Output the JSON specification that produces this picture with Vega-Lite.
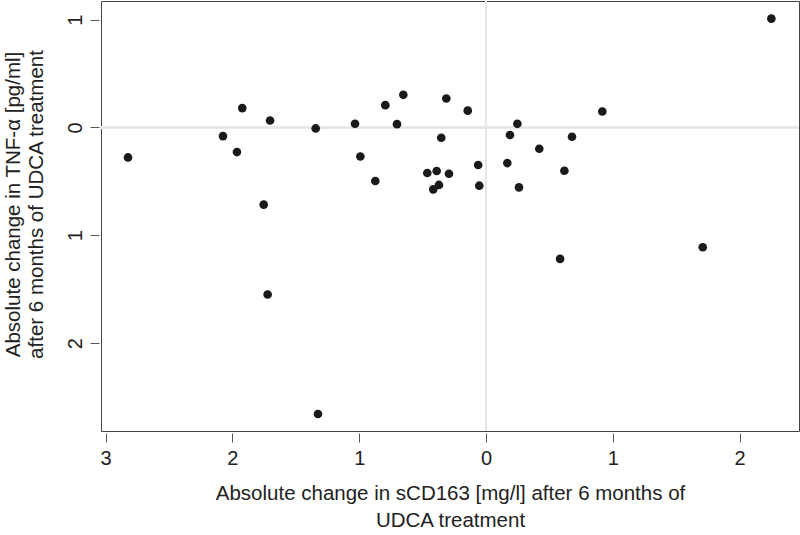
{
  "$schema": "https://vega.github.io/schema/vega-lite/v6.json",
  "width": 698,
  "height": 430,
  "autosize": {"type": "none"},
  "padding": {"left": 101, "top": 1, "right": 1, "bottom": 104},
  "background": "white",
  "config": {
    "view": {"stroke": "#444444", "strokeWidth": 1},
    "font": "Liberation Sans"
  },
  "data": {
    "values": [
      {"sCD163": -2.823, "TNF": -0.278},
      {"sCD163": -2.074, "TNF": -0.080},
      {"sCD163": -1.964, "TNF": -0.228},
      {"sCD163": -1.922, "TNF": 0.180},
      {"sCD163": -1.703, "TNF": 0.065},
      {"sCD163": -1.753, "TNF": -0.716},
      {"sCD163": -1.722, "TNF": -1.549},
      {"sCD163": -1.343, "TNF": -0.009},
      {"sCD163": -1.325, "TNF": -2.657},
      {"sCD163": -1.033, "TNF": 0.034},
      {"sCD163": -0.991, "TNF": -0.269},
      {"sCD163": -0.873, "TNF": -0.496},
      {"sCD163": -0.794, "TNF": 0.207},
      {"sCD163": -0.702, "TNF": 0.031},
      {"sCD163": -0.652, "TNF": 0.303},
      {"sCD163": -0.463, "TNF": -0.422},
      {"sCD163": -0.389, "TNF": -0.404},
      {"sCD163": -0.416, "TNF": -0.574},
      {"sCD163": -0.371, "TNF": -0.533},
      {"sCD163": -0.353, "TNF": -0.095},
      {"sCD163": -0.313, "TNF": 0.269},
      {"sCD163": -0.292, "TNF": -0.429},
      {"sCD163": -0.144, "TNF": 0.156},
      {"sCD163": -0.062, "TNF": -0.348},
      {"sCD163": -0.053, "TNF": -0.540},
      {"sCD163": 0.168, "TNF": -0.330},
      {"sCD163": 0.189, "TNF": -0.070},
      {"sCD163": 0.247, "TNF": 0.034},
      {"sCD163": 0.260, "TNF": -0.556},
      {"sCD163": 0.420, "TNF": -0.197},
      {"sCD163": 0.618, "TNF": -0.401},
      {"sCD163": 0.678, "TNF": -0.086},
      {"sCD163": 0.584, "TNF": -1.219},
      {"sCD163": 0.917, "TNF": 0.148},
      {"sCD163": 1.709, "TNF": -1.111},
      {"sCD163": 2.250, "TNF": 1.009}
    ]
  },
  "layer": [
    {
      "mark": {"type": "rule", "color": "#e6e6e6", "strokeWidth": 1.5},
      "encoding": {"x": {"datum": 0, "type": "quantitative"}}
    },
    {
      "mark": {"type": "rule", "color": "#e6e6e6", "strokeWidth": 1.5},
      "encoding": {"y": {"datum": 0, "type": "quantitative"}}
    },
    {
      "mark": {"type": "circle", "size": 75, "color": "#1a1a1a", "opacity": 1},
      "encoding": {
        "x": {
          "field": "sCD163",
          "type": "quantitative",
          "scale": {"domain": [-3.036, 2.468], "nice": false, "zero": false},
          "axis": {
            "title": ["Absolute change in sCD163 [mg/l] after 6 months of", "UDCA treatment"],
            "values": [-3, -2, -1, 0, 1, 2],
            "labelExpr": "format(abs(datum.value), 'd')",
            "grid": false,
            "domain": false,
            "offset": 2,
            "tickSize": 9,
            "tickColor": "#555555",
            "tickWidth": 1,
            "labelPadding": 6,
            "labelFontSize": 20,
            "labelColor": "#222222",
            "labelFont": "Liberation Sans",
            "labelFlush": false,
            "titleFontSize": 20.5,
            "titleFontWeight": "normal",
            "titleColor": "#222222",
            "titleFont": "Liberation Sans",
            "titleLineHeight": 27,
            "titleBaseline": "top",
            "titleY": 50
          }
        },
        "y": {
          "field": "TNF",
          "type": "quantitative",
          "scale": {"domain": [-2.815, 1.173], "nice": false, "zero": false},
          "axis": {
            "title": ["Absolute change in TNF-α [pg/ml]", "after 6 months of UDCA treatment"],
            "values": [-2, -1, 0, 1],
            "labelExpr": "format(abs(datum.value), 'd')",
            "grid": false,
            "domain": false,
            "offset": 2,
            "tickSize": 9,
            "tickColor": "#555555",
            "tickWidth": 1,
            "labelAngle": -90,
            "labelAlign": "center",
            "labelBaseline": "bottom",
            "labelPadding": 5,
            "labelFontSize": 20,
            "labelColor": "#222222",
            "labelFont": "Liberation Sans",
            "labelFlush": false,
            "titleFontSize": 20.5,
            "titleFontWeight": "normal",
            "titleColor": "#222222",
            "titleFont": "Liberation Sans",
            "titleLineHeight": 23,
            "titleBaseline": "top",
            "titleX": -96,
            "titleY": 203
          }
        }
      }
    }
  ]
}
